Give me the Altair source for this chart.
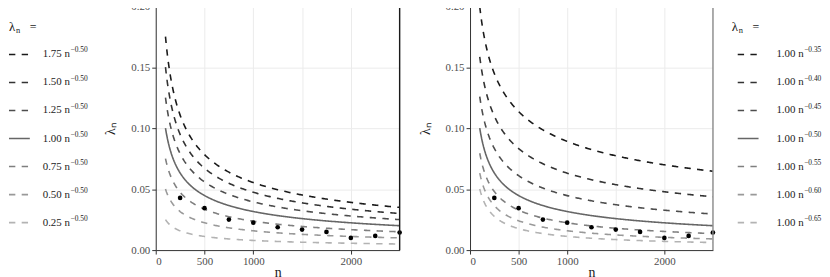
import altair as alt
import numpy as np
import pandas as pd

# ---- values ----
coef_left = [1.75, 1.50, 1.25, 1.00, 0.75, 0.50, 0.25]       # lambda_n = c * n^-0.50
expo_right = [0.35, 0.40, 0.45, 0.50, 0.55, 0.60, 0.65]      # lambda_n = 1.00 * n^-p
grays = ["#1a1a1a", "#333333", "#4d4d4d", "#666666", "#7f7f7f", "#999999", "#b3b3b3"]
n_first, n_last = 100, 2500
pts_n = [250, 500, 750, 1000, 1250, 1500, 1750, 2000, 2250, 2500]
pts_lam = [0.0428, 0.0344, 0.0250, 0.0225, 0.0187, 0.0168, 0.0149, 0.0100, 0.0116, 0.0144]
x_grid_values = list(range(0, 2501, 250))
y_grid_values = [round(0.025 * i, 3) for i in range(9)]

SERIF = "Liberation Serif"
W1, H = 246, 246
W2 = 245
DASH = [6.4, 6.4]
SOLID = [1, 0]

left_keys = [f"L{c:.2f}" for c in coef_left]
right_keys = [f"R{p:.2f}" for p in expo_right]
dashes = [DASH, DASH, DASH, SOLID, DASH, DASH, DASH]

n_grid = np.linspace(n_first, n_last, 241)
left_rows, right_rows = [], []
for k, c in zip(left_keys, coef_left):
    for n in n_grid:
        left_rows.append({"key": k, "n": n, "lam": c * n ** -0.5})
for k, p in zip(right_keys, expo_right):
    for n in n_grid:
        right_rows.append({"key": k, "n": n, "lam": 1.0 * n ** -p})
left_df = pd.DataFrame(left_rows)
right_df = pd.DataFrame(right_rows)
pts_df = pd.DataFrame({"n": pts_n, "lam": pts_lam})

x_test = "indexof([0,500,1000,2000], datum.value) >= 0"
y_test = "round(datum.value*1000) % 50 === 0"


def panel(df, keys, width, right_col):
    xs = alt.X("n:Q", scale=alt.Scale(domain=[0, 2500], nice=False, zero=False),
               axis=alt.Axis(values=x_grid_values, labelExpr=f"{x_test} ? format(datum.value, 'd') : ''",
                             tickOpacity={"condition": {"test": x_test, "value": 1}, "value": 0},
                             title="n", labelOverlap=False, titlePadding=-1))
    ys = alt.Y("lam:Q", scale=alt.Scale(domain=[0, 0.2], nice=False, zero=False),
               axis=alt.Axis(values=y_grid_values, labelExpr=f"{y_test} ? format(datum.value, '.2f') : ''",
                             tickOpacity={"condition": {"test": y_test, "value": 1}, "value": 0},
                             title="λₙ", labelOverlap=False, titlePadding=13))
    lines = alt.Chart(df).mark_line(strokeWidth=1.6, clip=True).encode(
        x=xs, y=ys,
        color=alt.Color("key:N", scale=alt.Scale(domain=keys, range=grays), legend=None),
        strokeDash=alt.StrokeDash("key:N", scale=alt.Scale(domain=keys, range=dashes), legend=None),
    )
    dots = alt.Chart(pts_df).mark_circle(size=22, color="black", opacity=1).encode(x="n:Q", y="lam:Q")
    top = alt.Chart(pts_df.head(1)).mark_rule(color="#8c8c8c", strokeWidth=1.6).encode(
        x=alt.value(0), x2=alt.value(width), y=alt.value(0))
    right = alt.Chart(pts_df.head(1)).mark_rule(color=right_col, strokeWidth=1.4).encode(
        x=alt.value(width), y=alt.value(0), y2=alt.value(H))
    return alt.layer(lines, dots, top, right).properties(width=width, height=H)


def legend(keys, mains, sups, x_title, x_line, x_lab, width):
    df = pd.DataFrame({"key": keys, "row": list(range(len(keys))), "main": mains, "sup": sups})
    yenc = alt.Y("row:Q", scale=alt.Scale(domain=[0, len(keys) - 1], range=[48.7, 218.3], nice=False, zero=False),
                 axis=None)
    rules = alt.Chart(df).mark_rule(strokeWidth=1.6).encode(
        x=alt.value(x_line), x2=alt.value(x_line + 21), y=yenc,
        color=alt.Color("key:N", scale=alt.Scale(domain=keys, range=grays), legend=None),
        strokeDash=alt.StrokeDash("key:N", scale=alt.Scale(domain=keys, range=dashes), legend=None),
    )
    mains_t = alt.Chart(df).mark_text(align="left", baseline="middle", fontSize=11, font=SERIF,
                                      color="#1a1a1a").encode(x=alt.value(x_lab), y=yenc, text="main:N")
    sups_t = alt.Chart(df).mark_text(align="left", baseline="middle", fontSize=7.5, font=SERIF,
                                     color="#1a1a1a", dy=-4).encode(x=alt.value(x_lab + 28), y=yenc, text="sup:N")
    tdf = pd.DataFrame({"a": ["λ"], "b": ["n"], "c": ["="]})
    t1 = alt.Chart(tdf).mark_text(align="left", baseline="middle", fontSize=13, font=SERIF, color="#1a1a1a").encode(
        x=alt.value(x_title), y=alt.value(21), text="a:N")
    t2 = alt.Chart(tdf).mark_text(align="left", baseline="middle", fontSize=8.5, font=SERIF, color="#1a1a1a").encode(
        x=alt.value(x_title + 7), y=alt.value(24), text="b:N")
    t3 = alt.Chart(tdf).mark_text(align="left", baseline="middle", fontSize=12, font=SERIF, color="#1a1a1a").encode(
        x=alt.value(x_title + 21), y=alt.value(21), text="c:N")
    return alt.layer(rules, mains_t, sups_t, t1, t2, t3).properties(width=width, height=H)


leg_left = legend(left_keys, [f"{c:.2f} n" for c in coef_left], ["−0.50"] * 7, 0, 0, 34, 148)
leg_right = legend(right_keys, ["1.00 n"] * 7, [f"−{p:.2f}" for p in expo_right], 19, 25, 64, 110)
p_left = panel(left_df, left_keys, W1, "#1a1a1a")
p_right = panel(right_df, right_keys, W2, "#8c8c8c")
spacer = alt.Chart(pts_df.head(1)).mark_point(opacity=0).encode(
    x=alt.value(0), y=alt.value(0)).properties(width=71, height=H)

chart = alt.hconcat(leg_left, p_left, spacer, p_right, leg_right, spacing=0, bounds="flush").properties(
    padding={"top": -9, "left": 0, "right": 0, "bottom": 0}
).configure_view(stroke=None).configure_axis(
    labelFont=SERIF, titleFont=SERIF, labelFontSize=11, titleFontSize=14, titleFontWeight="normal",
    labelColor="#4d4d4d", titleColor="#1a1a1a", gridColor="#ebebeb", gridWidth=1,
    domainColor="#333333", domainWidth=1, tickColor="#333333", tickSize=4, labelPadding=2,
)

chart.save("out.html", embed_options={"renderer": "svg", "actions": False})
